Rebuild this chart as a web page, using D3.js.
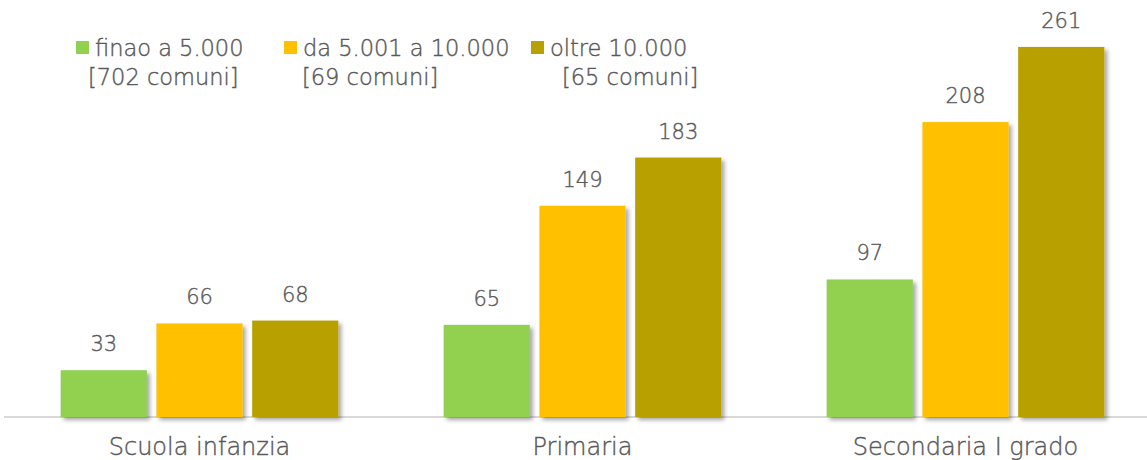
<!DOCTYPE html>
<html>
<head>
<meta charset="utf-8">
<script src="https://cdn.jsdelivr.net/npm/d3@7"></script>
<style>
  body { margin: 0; background: #fff; }
  svg { display: block; font-family: "DejaVu Sans", sans-serif; font-weight: 200; }
</style>
</head>
<body>
<div class="chart"></div>
<script>
var width = 1147;
var height = 460;

var categories = ['Scuola infanzia', 'Primaria', 'Secondaria I grado'];
var series = ['finao a 5.000', 'da 5.001 a 10.000', 'oltre 10.000'];
var seriesNotes = ['[702 comuni]', '[69 comuni]', '[65 comuni]'];
var colors = ['#92d050', '#ffc000', '#b8a000'];
var small = [33, 65, 97];
var medium = [66, 149, 208];
var large = [68, 183, 261];
var values = [small, medium, large];

var baseline = 417;
var textColor = '#595959';

var svg = d3.select('.chart').append('svg')
  .attr('width', width)
  .attr('height', height);

var defs = svg.append('defs');
defs.append('filter')
  .attr('id', 'shadow')
  .attr('x', '-10%').attr('y', '-10%')
  .attr('width', '130%').attr('height', '130%')
  .append('feDropShadow')
    .attr('dx', 3).attr('dy', 3)
    .attr('stdDeviation', 2)
    .attr('flood-color', '#000')
    .attr('flood-opacity', 0.35);

var x0 = d3.scaleBand()
  .domain(categories)
  .range([8, 1157])
  .paddingInner(0)
  .paddingOuter(0);

var x1 = d3.scaleBand()
  .domain(series)
  .range([0, x0.bandwidth()])
  .paddingInner(0.1)
  .paddingOuter(0.55);

var y = d3.scaleLinear()
  .domain([0, 280])
  .range([baseline, baseline - 397]);

// axis line
svg.append('line')
  .attr('x1', 4).attr('x2', width)
  .attr('y1', baseline).attr('y2', baseline)
  .attr('stroke', '#d9d9d9')
  .attr('stroke-width', 2);

var rows = [];
categories.forEach((c, i) => {
  series.forEach((s, j) => {
    rows.push({cat: c, ser: s, value: values[j][i], color: colors[j]});
  });
});

var bars = svg.append('g');

bars.selectAll('rect')
  .data(rows)
  .enter().append('rect')
    .attr('x', d => x0(d.cat) + x1(d.ser))
    .attr('y', d => y(d.value))
    .attr('width', x1.bandwidth())
    .attr('height', d => baseline - y(d.value))
    .attr('fill', d => d.color)
    .attr('filter', 'url(#shadow)');

// thin text, slightly thickened with a stroke
function label(sel, size) {
  return sel
    .attr('fill', textColor)
    .attr('stroke', textColor)
    .attr('stroke-width', 0.4)
    .style('font-size', size);
}

bars.selectAll('text')
  .data(rows)
  .enter().append('text')
    .attr('x', d => x0(d.cat) + x1(d.ser) + x1.bandwidth() / 2)
    .attr('y', d => y(d.value) - 19)
    .attr('text-anchor', 'middle')
    .call(label, '21px')
    .text(d => d.value);

// category labels
svg.append('g').selectAll('text')
  .data(categories)
  .enter().append('text')
    .attr('x', d => x0(d) + x0.bandwidth() / 2)
    .attr('y', 455)
    .attr('text-anchor', 'middle')
    .call(label, '24px')
    .text(d => d);

// legend
var legendX = [76, 284, 531];
var noteX = [88, 302, 562];
var legend = svg.append('g');

series.forEach((s, j) => {
  legend.append('rect')
    .attr('x', legendX[j]).attr('y', 41)
    .attr('width', 13).attr('height', 13)
    .attr('fill', colors[j]);
  legend.append('text')
    .attr('x', legendX[j] + 19).attr('y', 56)
    .call(label, '22.5px')
    .text(s);
  legend.append('text')
    .attr('x', noteX[j]).attr('y', 85)
    .call(label, '22.5px')
    .text(seriesNotes[j]);
});

svg.node();
</script>
</body>
</html>
